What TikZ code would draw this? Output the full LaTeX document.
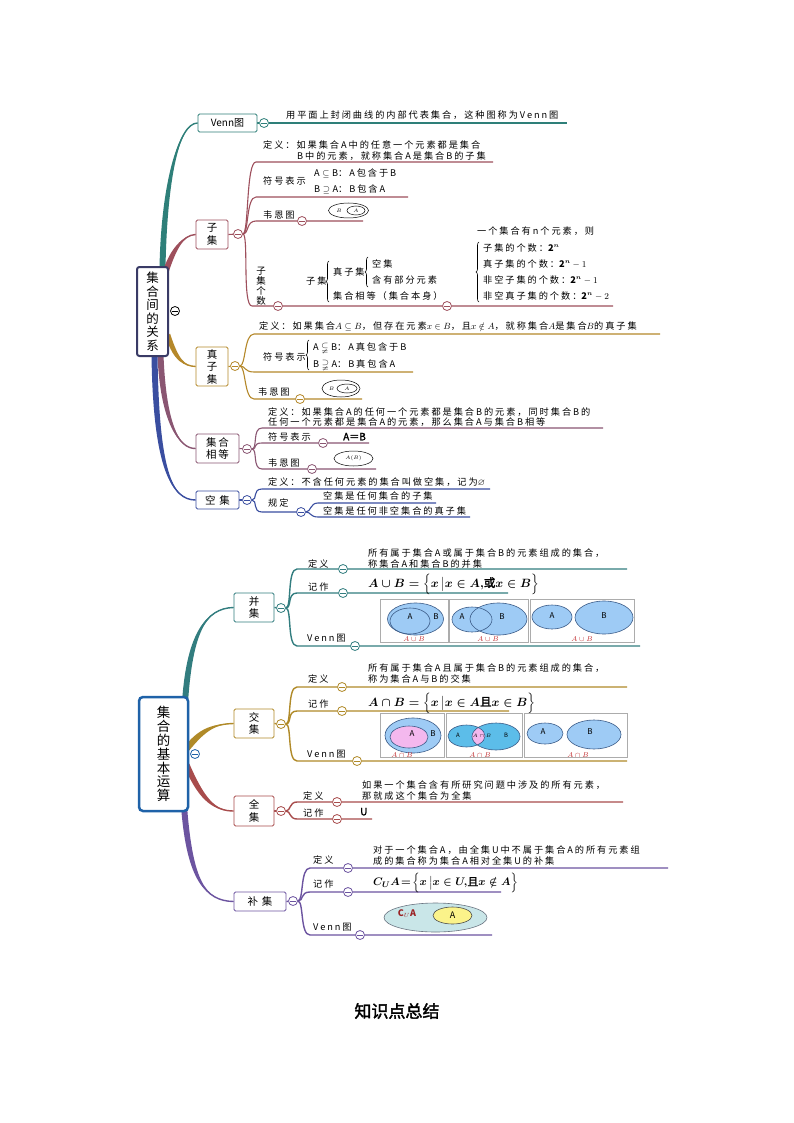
\documentclass[tikz,border=0pt]{standalone}
\usepackage{amsmath,amssymb}
\usepackage{fontspec}
\setmainfont{Noto Sans CJK SC}[LetterSpace=21]
\newfontfamily\plainf{Noto Sans CJK SC}
\newfontfamily\heavy{Noto Sans CJK SC}[FakeBold=2]
\usetikzlibrary{calc,decorations.pathreplacing}
\pgfdeclarelayer{bg}\pgfdeclarelayer{lines}\pgfsetlayers{bg,lines,main}
\definecolor{cteal}{HTML}{2E7F79}
\definecolor{cmaroon}{HTML}{9E4F5C}
\definecolor{cgold}{HTML}{B5882A}
\definecolor{cplum}{HTML}{8A5672}
\definecolor{cnavy}{HTML}{3A4EA0}
\definecolor{croot}{HTML}{3A3B66}
\definecolor{croot2}{HTML}{1F62A8}
\definecolor{cred}{HTML}{A84C4C}
\definecolor{cpurple}{HTML}{6C54A0}
\definecolor{bteal}{HTML}{327D7F}
\definecolor{bgold}{HTML}{B08A28}
\definecolor{vblue}{HTML}{9ECBF5}
\definecolor{vcyan}{HTML}{5CBDE9}
\definecolor{vpink}{HTML}{F4B8EE}
\definecolor{vteal}{HTML}{C9E6E8}
\definecolor{vyellow}{HTML}{FBF38A}
\definecolor{vline}{HTML}{3C5C88}
\definecolor{vred}{HTML}{C0282A}
\newcommand\ft{\fontsize{9.2}{10}\selectfont}
\newcommand\fb{\fontsize{10.5}{12.5}\selectfont}
\newsavebox\boxUnion
\newsavebox\boxInter
\newsavebox\boxCompl
\newcommand\tbr[6]{%
 \fill[#1] ($#2+(#6)$) .. controls ($#3+(#6)$) and #4 .. #5 .. controls #4 and ($#3-(#6)$) .. ($#2-(#6)$) -- cycle;
 \draw[#1, line width=1.4pt] #2 .. controls #3 and #4 .. #5;}
\begin{document}
\sbox\boxUnion{\fontsize{11.5}{13}\selectfont\mathversion{bold}$A\cup B=\Bigl\{x\,\big|x\in A,$\hbox{\heavy 或}$x\in B\Bigr\}$}%
\sbox\boxInter{\fontsize{11.5}{13}\selectfont\mathversion{bold}$A\cap B=\Bigl\{x\,\big|x\in A$\hbox{\heavy 且}$x\in B\Bigr\}$}%
\sbox\boxCompl{\fontsize{11}{13}\selectfont\mathversion{bold}$C_U A\!=\!\Bigl\{x\,\big|x\in U,$\hbox{\heavy 且}$x\notin A\Bigr\}$}%
\begin{tikzpicture}[x=1pt,y=-1pt,
 txt/.style={anchor=base west, yshift=-3.3pt, inner sep=0pt, font=\ft},
 cbox/.style={draw=#1, fill=white, line width=0.8pt, rounded corners=1.5pt, align=center, inner sep=0pt, font=\plainf\fb},
 rootbox/.style={draw=#1, fill=white, line width=2pt, rounded corners=2.5pt, align=center, inner sep=0pt},
 coll/.style={circle, draw=#1, fill=white, minimum size=9pt, inner sep=0pt, line width=0.8pt,
   path picture={\draw[#1, line width=0.8pt] ([xshift=-2.6pt]path picture bounding box.center) -- ([xshift=2.6pt]path picture bounding box.center);}},
 sb/.style={draw=#1, line width=1.1pt},
 sbb/.style={draw=#1, line width=1.4pt},
 br/.style={decorate, decoration={brace, amplitude=3pt}, line width=0.6pt},
 vfr/.style={draw=gray!65, line width=0.6pt},
 vel/.style={draw=vline, line width=0.6pt, fill=#1},
 vlab/.style={inner sep=0pt, font=\fontsize{8}{9}\selectfont},
 rlab/.style={inner sep=0pt, font=\fontsize{7}{8}\selectfont, text=vred}]
\useasboundingbox (0,0) rectangle (794,1123);
\begin{pgfonlayer}{bg}\fill[white] (0,0) rectangle (794,1123);\end{pgfonlayer}

% ================= TOP MAP =================
\node[rootbox=croot, minimum width=31pt, minimum height=89pt, font=\plainf\fontsize{12.5}{13.5}\selectfont] (r1) at (152.5,311.5) {集\\合\\间\\的\\关\\系};
\node[coll=black] (rc1) at (175,311) {};

% Venn
\node[cbox=cteal, minimum width=59pt, minimum height=18pt, font=\plainf\fontsize{10}{12}\selectfont] (venn) at (227.5,123) {Venn图};
\node[coll=cteal] (vc) at (264,123) {};
\node[txt] (vt) at (286,115) {用平面上封闭曲线的内部代表集合，这种图称为Venn图};
\coordinate (ve) at (567,123);

% 子集
\node[cbox=cmaroon, minimum width=32pt, minimum height=29pt] (zi) at (212,234.5) {子\\集};
\node[coll=cmaroon] (zc) at (238,234) {};
\node[txt] (z1a) at (263,145) {定义：如果集合A中的任意一个元素都是集合};
\node[txt] (z1b) at (297,156) {B中的元素，就称集合A是集合B的子集};
\coordinate (z1s) at (256,162); \coordinate (z1e) at (493,162);
\node[txt] (z2) at (263,181) {符号表示};
\node[txt] (z2a) at (314,173) {$\mathrm{A}\subseteq\mathrm{B}$：A包含于B};
\node[txt] (z2b) at (314,189) {$\mathrm{B}\supseteq\mathrm{A}$：B包含A};
\coordinate (z2s) at (256,197); \coordinate (z2e) at (408,197);
\node[txt] (z3) at (263,215) {韦恩图};
\node[coll=cmaroon] (z3c) at (302,221) {};
\coordinate (z3s) at (256,221); \coordinate (z3e) at (363,221);
\draw[line width=0.5pt] (348.5,210.5) ellipse (20pt and 7.5pt);
\draw[line width=0.5pt] (356,210.5) ellipse (9pt and 4.5pt);
\node[inner sep=0pt, font=\fontsize{5.5}{6}\selectfont] (z3b) at (339,210.5) {$B$};
\node[inner sep=0pt, font=\fontsize{5.5}{6}\selectfont] (z3a) at (356,210.5) {$A$};
\node[inner sep=0pt, align=center, font=\plainf\fontsize{9.5}{10}\selectfont] (z4) at (261,286) {子\\集\\个\\数};
\coordinate (z4s) at (252,306);
\node[coll=cmaroon] (z4k) at (278,306) {};
\node[txt] (z4a) at (306,281) {子集};
\draw[br] (329,302) -- (329,261);
\node[txt] (z4b) at (333,272) {真子集};
\draw[br] (368,287) -- (368,257);
\node[txt] (z4c1) at (372,264) {空集};
\node[txt] (z4c2) at (372,280) {含有部分元素};
\node[txt] (z4d) at (333,296) {集合相等（集合本身）};
\node[coll=cmaroon] (z4kk) at (447,306) {};
\node[txt] (z4e) at (477,231) {一个集合有n个元素，则};
\draw[br] (479,302) -- (479,242);
\node[txt] (z4f1) at (483,248) {子集的个数：$\mathbf{2}^{\boldsymbol n}$};
\node[txt] (z4f2) at (483,264) {真子集的个数：$\mathbf{2}^{\boldsymbol n}-1$};
\node[txt] (z4f3) at (483,280) {非空子集的个数：$\mathbf{2}^{\boldsymbol n}-1$};
\node[txt] (z4f4) at (483,296) {非空真子集的个数：$\mathbf{2}^{\boldsymbol n}-2$};
\coordinate (z4end) at (613,306);

% 真子集
\node[cbox=cgold, minimum width=32pt, minimum height=39pt] (zh) at (212,366.5) {真\\子\\集};
\node[coll=cgold] (zhc) at (235,366) {};
\node[txt] (h1) at (259,326) {定义：如果集合$A\subseteq B$，但存在元素$x\in B$，且$x\notin A$，就称集合$A$是集合$B$的真子集};
\coordinate (h1s) at (254,334); \coordinate (h1e) at (660,334);
\node[txt] (h2) at (263,357) {符号表示};
\draw[br] (309,370) -- (309,340);
\node[txt] (h2a) at (313,347) {$\mathrm{A}\subsetneqq\mathrm{B}$：A真包含于B};
\node[txt] (h2b) at (313,364) {$\mathrm{B}\supsetneqq\mathrm{A}$：B真包含A};
\coordinate (h2s) at (254,372); \coordinate (h2e) at (413,372);
\node[txt] (h3) at (258,392) {韦恩图};
\node[coll=cgold] (h3c) at (300,399) {};
\coordinate (h3s) at (254,399); \coordinate (h3e) at (362,399);
\draw[line width=0.5pt] (341,388.5) ellipse (19pt and 8.5pt);
\draw[line width=0.5pt] (347,388.5) ellipse (10pt and 4.5pt);
\node[inner sep=0pt, font=\fontsize{5.5}{6}\selectfont] (h3b) at (331.5,388.5) {$B$};
\node[inner sep=0pt, font=\fontsize{5.5}{6}\selectfont] (h3a) at (347,388.5) {$A$};

% 集合相等
\node[cbox=cplum, minimum width=43pt, minimum height=29pt] (xd) at (217.5,448.5) {集\hspace{2pt}合\\相\hspace{2pt}等};
\node[coll=cplum] (xdc) at (247,449) {};
\node[txt] (x1a) at (268,412) {定义：如果集合A的任何一个元素都是集合B的元素，同时集合B的};
\node[txt] (x1b) at (268,422) {任何一个元素都是集合A的元素，那么集合A与集合B相等};
\coordinate (x1s) at (262,428); \coordinate (x1e) at (603,428);
\node[txt] (x2) at (268,437) {符号表示};
\node[coll=cplum] (x2c) at (323,443) {};
\node[txt, font=\heavy\fontsize{10}{11}\selectfont] (x2a) at (343,437) {A＝B};
\coordinate (x2s) at (262,443); \coordinate (x2e) at (369,443);
\node[txt] (x3) at (268,463) {韦恩图};
\node[coll=cplum] (x3c) at (312,469) {};
\coordinate (x3s) at (262,469); \coordinate (x3e) at (376,469);
\draw[line width=0.5pt] (353.5,458.5) ellipse (19.5pt and 7.5pt);
\node[inner sep=0pt, font=\fontsize{5.5}{6}\selectfont] (x3a) at (353.5,458.5) {$A(B)$};

% 空集
\node[cbox=cnavy, minimum width=43pt, minimum height=18pt] (kj) at (217.5,500) {空\hspace{4pt}集};
\node[coll=cnavy] (kjc) at (247,500) {};
\node[txt] (k1) at (268,482) {定义：不含任何元素的集合叫做空集，记为$\varnothing$};
\coordinate (k1s) at (262,489); \coordinate (k1e) at (490,489);
\node[txt] (k2) at (268,503) {规定};
\node[coll=cnavy] (k2c) at (301,512) {};
\coordinate (k2s) at (262,512);
\node[txt] (k2a) at (323,496) {空集是任何集合的子集};
\node[txt] (k2b) at (323,511) {空集是任何非空集合的真子集};
\coordinate (k2as) at (318,503); \coordinate (k2ae) at (436,503);
\coordinate (k2bs) at (318,517); \coordinate (k2be) at (470,517);

% ================= BOTTOM MAP =================
\node[rootbox=croot2, line width=2.5pt, rounded corners=4pt, minimum width=49pt, minimum height=114pt, font=\plainf\fontsize{13.5}{13.9}\selectfont] (r2) at (163.5,754) {集\\合\\的\\基\\本\\运\\算};
\node[coll=croot2] (rc2) at (195,754) {};

% 并集
\node[cbox=bteal, minimum width=40pt, minimum height=29pt] (bj) at (254,607.5) {并\\集};
\node[coll=bteal] (bjc) at (281,608) {};
\node[txt] (b1) at (308,564) {定义};
\node[coll=bteal] (b1c) at (343,569) {};
\node[txt] (b1a) at (368,553) {所有属于集合A或属于集合B的元素组成的集合，};
\node[txt] (b1b) at (368,564) {称集合A和集合B的并集};
\coordinate (b1s) at (297,569); \coordinate (b1e) at (627,569);
\node[txt] (b2) at (308,587) {记作};
\node[coll=bteal] (b2c) at (343,593) {};
\node[anchor=west, inner sep=0pt] (b2a) at (368,584) {\usebox\boxUnion};
\coordinate (b2s) at (297,593); \coordinate (b2e) at (508,593);
\node[txt] (b3) at (307,638) {Venn图};
\node[coll=bteal] (b3c) at (355,646) {};
\coordinate (b3s) at (297,646); \coordinate (b3e) at (640,646);
% venn union
\draw[vfr] (380,599) rectangle (448,642);
\draw[vfr] (449,599) rectangle (528,642);
\draw[vfr] (530,599) rectangle (634,642);
\draw[vel=vblue] (415.5,619) ellipse (28pt and 16pt);
\draw[draw=vline, line width=0.6pt] (410,621) ellipse (20pt and 13pt);
\fill[vblue] (472,619.5) ellipse (20pt and 12.5pt);
\fill[vblue] (498.5,619) ellipse (28.5pt and 16pt);
\draw[draw=vline, line width=0.6pt] (472,619.5) ellipse (20pt and 12.5pt);
\draw[draw=vline, line width=0.6pt] (498.5,619) ellipse (28.5pt and 16pt);
\draw[vel=vblue] (552,617) ellipse (20pt and 12pt);
\draw[vel=vblue] (604,617.5) ellipse (29pt and 16.5pt);
\node[vlab] (u1A) at (410,617) {$\mathit{A}$};
\node[vlab] (u1B) at (436,617) {$\mathit{B}$};
\node[vlab] (u2A) at (462,617) {$\mathit{A}$};
\node[vlab] (u2B) at (502,617) {$\mathit{B}$};
\node[vlab] (u3A) at (552,616) {$\mathit{A}$};
\node[vlab] (u3B) at (604,616) {$\mathit{B}$};
\node[rlab] (u1l) at (414,639.5) {$A\cup B$};
\node[rlab] (u2l) at (488,639.5) {$A\cup B$};
\node[rlab] (u3l) at (582,639.5) {$A\cup B$};

% 交集
\node[cbox=bgold, minimum width=40pt, minimum height=29pt] (jj) at (254,723.5) {交\\集};
\node[coll=bgold] (jjc) at (281,724) {};
\node[txt] (j1) at (308,679) {定义};
\node[coll=bgold] (j1c) at (342,687) {};
\node[txt] (j1a) at (368,668) {所有属于集合A且属于集合B的元素组成的集合，};
\node[txt] (j1b) at (368,679) {称为集合A与B的交集};
\coordinate (j1s) at (297,687); \coordinate (j1e) at (627,687);
\node[txt] (j2) at (308,704) {记作};
\node[coll=bgold] (j2c) at (342,711) {};
\node[anchor=west, inner sep=0pt] (j2a) at (368,703) {\usebox\boxInter};
\coordinate (j2s) at (297,711); \coordinate (j2e) at (509,711);
\node[txt] (j3) at (307,754) {Venn图};
\node[coll=bgold] (j3c) at (357,761) {};
\coordinate (j3s) at (297,761); \coordinate (j3e) at (627,761);
% venn intersection
\draw[vfr] (380,713) rectangle (444,757);
\draw[vfr] (446,713) rectangle (522,757);
\draw[vfr] (524,713) rectangle (627,757);
\draw[vel=vblue] (413,735.5) ellipse (28pt and 17.5pt);
\draw[vel=vpink] (409,737) ellipse (19pt and 11pt);
\fill[vcyan] (466.5,736) ellipse (18.5pt and 11pt);
\fill[vcyan] (496,736.5) ellipse (24pt and 13.5pt);
\begin{scope}
\clip (466.5,736) ellipse (18.5pt and 11pt);
\fill[vpink] (496,736.5) ellipse (24pt and 13.5pt);
\end{scope}
\draw[draw=vline, line width=0.6pt] (466.5,736) ellipse (18.5pt and 11pt);
\draw[draw=vline, line width=0.6pt] (496,736.5) ellipse (24pt and 13.5pt);
\draw[vel=vblue] (545,733.5) ellipse (18pt and 10.5pt);
\draw[vel=vblue] (594,734.5) ellipse (27pt and 14.5pt);
\node[vlab] (i1A) at (412,734) {$\mathit{A}$};
\node[vlab] (i1B) at (433,734) {$\mathit{B}$};
\node[vlab, font=\fontsize{6}{7}\selectfont] (i2A) at (458,735) {A};
\node[vlab, font=\fontsize{6}{7}\selectfont] (i2B) at (506,735) {B};
\node[vlab, font=\fontsize{4.5}{5}\selectfont] (i2AB) at (482,736) {$A\cap B$};
\node[vlab] (i3A) at (543,732) {$\mathit{A}$};
\node[vlab] (i3B) at (590,732) {$\mathit{B}$};
\node[rlab] (i1l) at (402,755) {$A\cap B$};
\node[rlab] (i2l) at (480,755) {$A\cap B$};
\node[rlab] (i3l) at (578,755) {$A\cap B$};

% 全集
\node[cbox=cred, minimum width=40pt, minimum height=30pt] (qj) at (254,811) {全\\集};
\node[coll=cred] (qjc) at (281,811) {};
\node[txt] (q1) at (303,796) {定义};
\node[coll=cred] (q1c) at (337,802) {};
\node[txt] (q1a) at (362,785) {如果一个集合含有所研究问题中涉及的所有元素，};
\node[txt] (q1b) at (362,796) {那就成这个集合为全集};
\coordinate (q1s) at (297,802); \coordinate (q1e) at (623,802);
\node[txt] (q2) at (303,813) {记作};
\node[coll=cred] (q2c) at (337,819) {};
\node[txt, font=\heavy\fontsize{10}{11}\selectfont] (q2a) at (360,812) {U};
\coordinate (q2s) at (297,819); \coordinate (q2e) at (372,819);

% 补集
\node[cbox=cpurple, minimum width=52pt, minimum height=19pt] (bu) at (260,901.5) {补\hspace{4pt}集};
\node[coll=cpurple] (buc) at (293,901) {};
\node[txt] (c1) at (313,860) {定义};
\node[coll=cpurple] (c1c) at (348,868) {};
\node[txt] (c1a) at (373,850) {对于一个集合A，由全集U中不属于集合A的所有元素组};
\node[txt] (c1b) at (373,861) {成的集合称为集合A相对全集U的补集};
\coordinate (c1s) at (310,868); \coordinate (c1e) at (668,868);
\node[txt] (c2) at (313,884) {记作};
\node[coll=cpurple] (c2c) at (348,892) {};
\node[anchor=west, inner sep=0pt] (c2a) at (373,883) {\usebox\boxCompl};
\coordinate (c2s) at (310,892); \coordinate (c2e) at (501,892);
\node[txt] (c3) at (313,927) {Venn图};
\node[coll=cpurple] (c3c) at (360,935) {};
\coordinate (c3s) at (310,935); \coordinate (c3e) at (492,935);
\draw[draw=gray!70!vline, line width=0.6pt, fill=vteal] (435.5,917.5) ellipse (51.5pt and 14.5pt);
\draw[draw=black!70, line width=0.6pt, fill=vyellow] (452.5,915.5) ellipse (19.5pt and 8.5pt);
\node[inner sep=0pt, text=vred!80!black, font=\fontsize{9}{10}\selectfont] (cua) at (407,914) {$\mathbf{C}_{U}\mathbf{A}$};
\node[inner sep=0pt, font=\fontsize{9}{10}\selectfont] (ca) at (452.5,915.5) {$\mathrm{A}$};

% title
\node[inner sep=0pt, font=\heavy\fontsize{17}{20}\selectfont] (ti) at (397,1011) {知识点总结};

% ================= CONNECTORS =================
\begin{pgfonlayer}{lines}
\coordinate (sV) at ($(r1.north)+(10,2)$);
\coordinate (sZ) at ($(r1.north east)+(-3,5)$);
\coordinate (sZh) at ($(r1.east)+(-1,24)$);
\coordinate (sX) at ($(r1.south)+(8,-2)$);
\coordinate (sK) at ($(r1.south)+(2,-2)$);
\tbr{cteal}{(sV)}{(164,185)}{(178,123)}{(venn.west)}{3,0}
\tbr{cmaroon}{(sZ)}{(173,250)}{(183,235)}{(zi.west)}{2.5,1.5}
\tbr{cgold}{(sZh)}{(176,360)}{(184,366)}{(zh.west)}{2,-2}
\tbr{cplum}{(sX)}{(163,420)}{(178,449)}{(xd.west)}{3,0}
\tbr{cnavy}{(sK)}{(156,470)}{(172,500)}{(kj.west)}{3,0}
\draw[sb=cteal] (venn.east) -- (vc) -- (ve);
\draw[sb=cmaroon] (zi.east) -- (zc);
\draw[sb=cmaroon] (zc.east) .. controls +(6,0) and +(-10,0) .. (z1s) -- (z1e);
\draw[sb=cmaroon] (zc.east) .. controls +(6,0) and +(-10,0) .. (z2s) -- (z2e);
\draw[sb=cmaroon] (zc.east) .. controls +(6,0) and +(-10,0) .. (z3s) -- (z3c) -- (z3e);
\draw[sb=cmaroon] (zc.east) .. controls +(6,0) and +(-10,0) .. (z4s) -- (z4k) -- (z4kk) -- (z4end);
\draw[sb=cgold] (zh.east) -- (zhc);
\draw[sb=cgold] (zhc.east) .. controls +(6,0) and +(-10,0) .. (h1s) -- (h1e);
\draw[sb=cgold] (zhc.east) .. controls +(6,0) and +(-10,0) .. (h2s) -- (h2e);
\draw[sb=cgold] (zhc.east) .. controls +(6,0) and +(-10,0) .. (h3s) -- (h3c) -- (h3e);
\draw[sb=cplum] (xd.east) -- (xdc);
\draw[sb=cplum] (xdc.east) .. controls +(6,0) and +(-10,0) .. (x1s) -- (x1e);
\draw[sb=cplum] (xdc.east) .. controls +(6,0) and +(-10,0) .. (x2s) -- (x2c) -- (x2e);
\draw[sb=cplum] (xdc.east) .. controls +(6,0) and +(-10,0) .. (x3s) -- (x3c) -- (x3e);
\draw[sb=cnavy] (kj.east) -- (kjc);
\draw[sb=cnavy] (kjc.east) .. controls +(6,0) and +(-10,0) .. (k1s) -- (k1e);
\draw[sb=cnavy] (kjc.east) .. controls +(6,0) and +(-10,0) .. (k2s) -- (k2c);
\draw[sb=cnavy] (k2c.east) .. controls +(5,0) and +(-8,0) .. (k2as) -- (k2ae);
\draw[sb=cnavy] (k2c.east) .. controls +(5,0) and +(-8,0) .. (k2bs) -- (k2be);
\coordinate (sB) at ($(r2.north east)+(-4,3)$);
\coordinate (sJ) at ($(r2.east)+(-2,-6)$);
\coordinate (sQ) at ($(r2.east)+(-2,12)$);
\coordinate (sP) at ($(r2.south east)+(-5,-3)$);
\tbr{bteal}{(sB)}{(190,635)}{(205,608)}{(bj.west)}{3,0}
\tbr{bgold}{(sJ)}{(202,730)}{(214,724)}{(jj.west)}{1.5,3}
\tbr{cred}{(sQ)}{(202,800)}{(215,811)}{(qj.west)}{2,-2.5}
\tbr{cpurple}{(sP)}{(190,880)}{(205,901)}{(bu.west)}{3,0}
\draw[sbb=bteal] (bj.east) -- (bjc);
\draw[sbb=bteal] (bjc.east) .. controls +(6,0) and +(-10,0) .. (b1s) -- (b1c) -- (b1e);
\draw[sbb=bteal] (bjc.east) .. controls +(6,0) and +(-10,0) .. (b2s) -- (b2c) -- (b2e);
\draw[sbb=bteal] (bjc.east) .. controls +(6,0) and +(-10,0) .. (b3s) -- (b3c) -- (b3e);
\draw[sbb=bgold] (jj.east) -- (jjc);
\draw[sbb=bgold] (jjc.east) .. controls +(6,0) and +(-10,0) .. (j1s) -- (j1c) -- (j1e);
\draw[sbb=bgold] (jjc.east) .. controls +(6,0) and +(-10,0) .. (j2s) -- (j2c) -- (j2e);
\draw[sbb=bgold] (jjc.east) .. controls +(6,0) and +(-10,0) .. (j3s) -- (j3c) -- (j3e);
\draw[sbb=cred] (qj.east) -- (qjc);
\draw[sbb=cred] (qjc.east) .. controls +(5,0) and +(-8,0) .. (q1s) -- (q1c) -- (q1e);
\draw[sbb=cred] (qjc.east) .. controls +(5,0) and +(-8,0) .. (q2s) -- (q2c) -- (q2e);
\draw[sbb=cpurple] (bu.east) -- (buc);
\draw[sbb=cpurple] (buc.east) .. controls +(6,0) and +(-10,0) .. (c1s) -- (c1c) -- (c1e);
\draw[sbb=cpurple] (buc.east) .. controls +(6,0) and +(-10,0) .. (c2s) -- (c2c) -- (c2e);
\draw[sbb=cpurple] (buc.east) .. controls +(6,0) and +(-10,0) .. (c3s) -- (c3c) -- (c3e);
\end{pgfonlayer}
\end{tikzpicture}
\end{document}
